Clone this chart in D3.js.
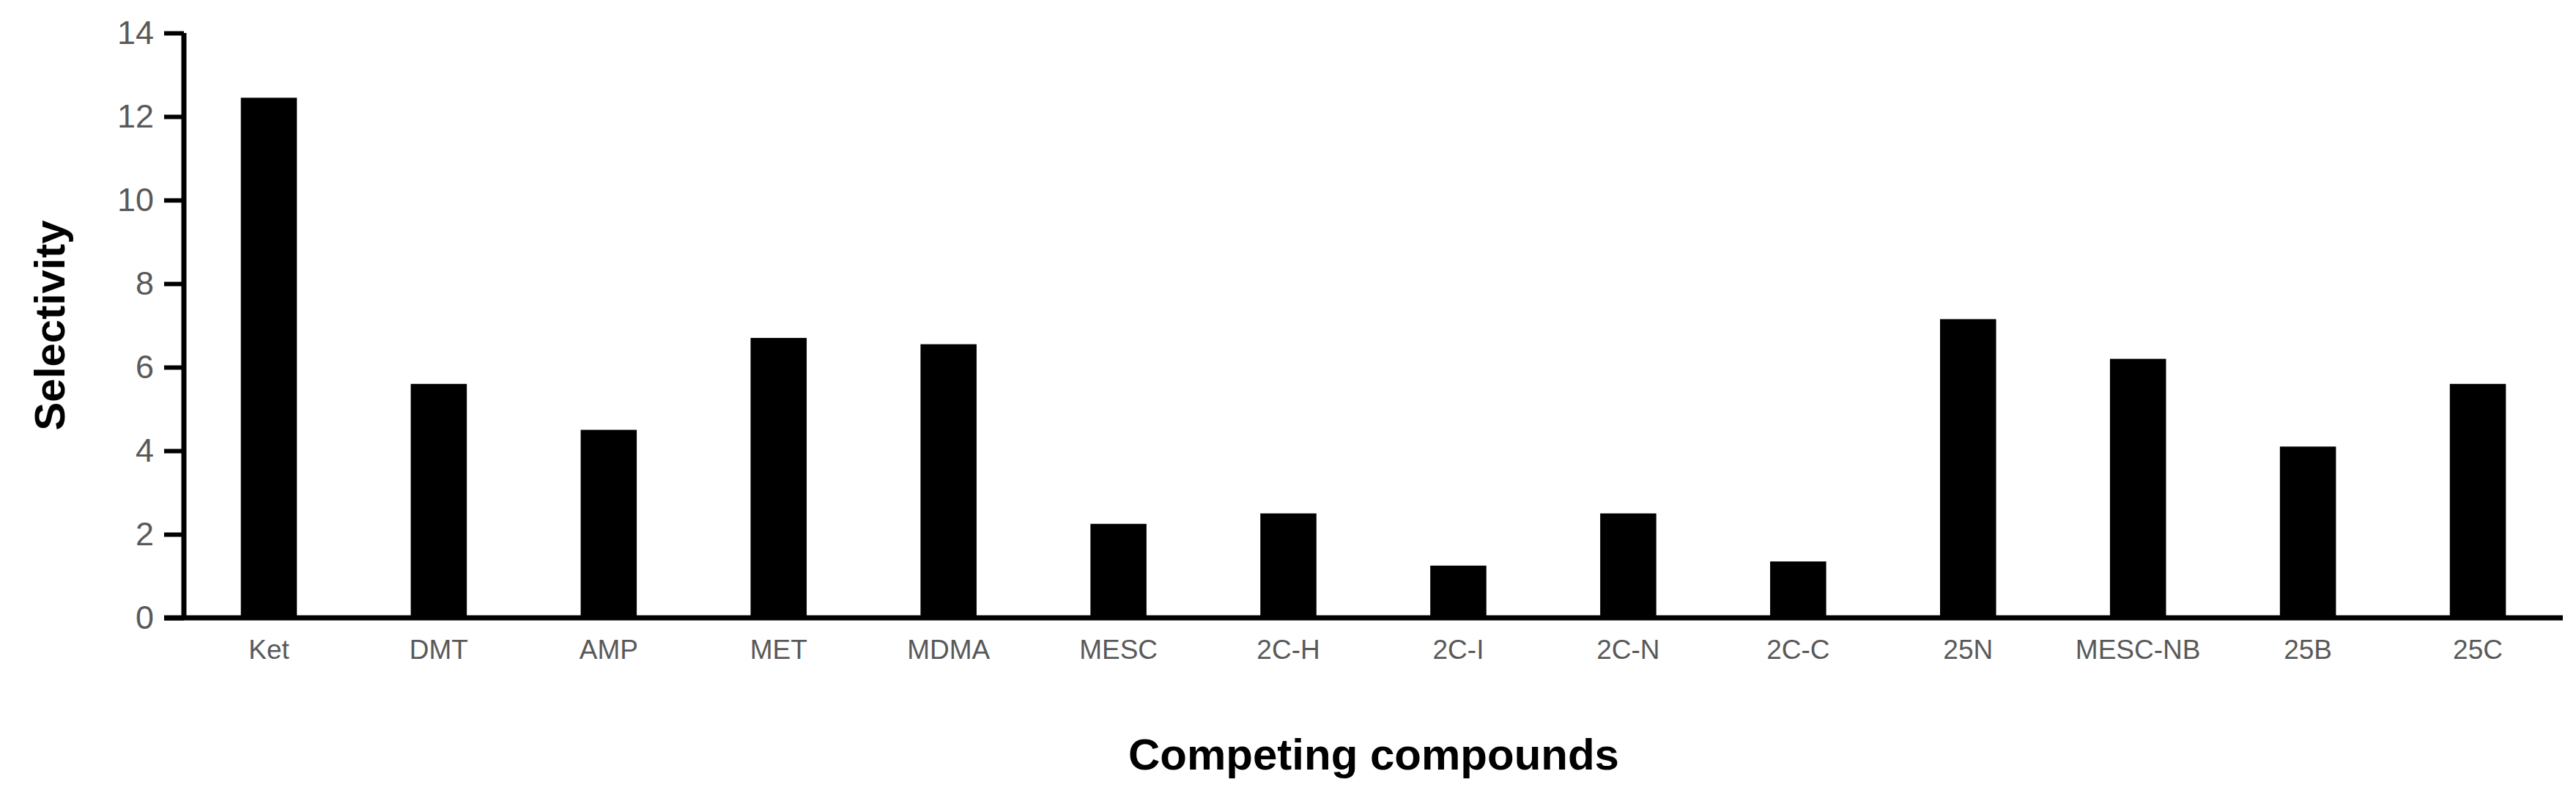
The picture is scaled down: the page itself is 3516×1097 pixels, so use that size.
<!DOCTYPE html>
<html>
<head>
<meta charset="utf-8">
<script src="https://cdn.jsdelivr.net/npm/d3@7"></script>
<style>
  body { margin: 0; background: #fff; }
  svg { display: block; font-family: "Liberation Sans", Arial, sans-serif; }
</style>
</head>
<body>
<div id="chart"></div>
<script>
const compounds = ["Ket", "DMT", "AMP", "MET", "MDMA", "MESC", "2C-H", "2C-I", "2C-N", "2C-C", "25N", "MESC-NB", "25B", "25C"];
const selectivity = [12.45, 5.6, 4.5, 6.7, 6.55, 2.25, 2.5, 1.25, 2.5, 1.35, 7.15, 6.2, 4.1, 5.6];
const yTicks = [0, 2, 4, 6, 8, 10, 12, 14];

const width = 3516, height = 1097;
const margins = {top: 45, right: 18, bottom: 254, left: 251};

const svg = d3.select("#chart")
  .append("svg")
  .attr("width", width)
  .attr("height", height);

const xScale = d3.scaleBand()
  .domain(compounds)
  .range([margins.left, width - margins.right])
  .paddingInner(0.67)
  .paddingOuter(0.335);

const yScale = d3.scaleLinear()
  .domain([0, 14])
  .range([height - margins.bottom, margins.top]);

// bars
svg.selectAll("rect.bar")
  .data(compounds)
  .join("rect")
    .attr("class", "bar")
    .attr("x", d => xScale(d))
    .attr("width", xScale.bandwidth())
    .attr("y", (d, i) => yScale(selectivity[i]))
    .attr("height", (d, i) => yScale(0) - yScale(selectivity[i]))
    .style("fill", "#000");

// y-axis
const yAxis = svg.append("g")
  .attr("transform", `translate(${margins.left},0)`)
  .call(d3.axisLeft(yScale).tickValues(yTicks).tickSize(27).tickPadding(14));
yAxis.select(".domain").attr("stroke-width", 7).attr("d", `M0,${yScale(14)}V${yScale(0)}`);
yAxis.selectAll(".tick line").attr("stroke-width", 6);
yAxis.selectAll(".tick text")
  .style("font-size", "45px")
  .style("fill", "#595959");

// x-axis
const xAxis = svg.append("g")
  .attr("transform", `translate(0,${height - margins.bottom})`)
  .call(d3.axisBottom(xScale).tickSize(0).tickPadding(30));
xAxis.select(".domain").attr("stroke-width", 7)
  .attr("d", `M${margins.left - 27},0H${width - margins.right}`);
xAxis.selectAll(".tick text")
  .style("font-size", "37px")
  .style("fill", "#595959");

// x label
svg.append("text")
  .attr("text-anchor", "middle")
  .attr("x", 1875)
  .attr("y", 1050)
  .style("font-size", "60px")
  .style("font-weight", "bold")
  .text("Competing compounds");

// y label
svg.append("text")
  .attr("text-anchor", "middle")
  .attr("transform", `translate(88,${yScale(7)}) rotate(-90)`)
  .style("font-size", "58px")
  .style("font-weight", "bold")
  .text("Selectivity");
</script>
</body>
</html>
